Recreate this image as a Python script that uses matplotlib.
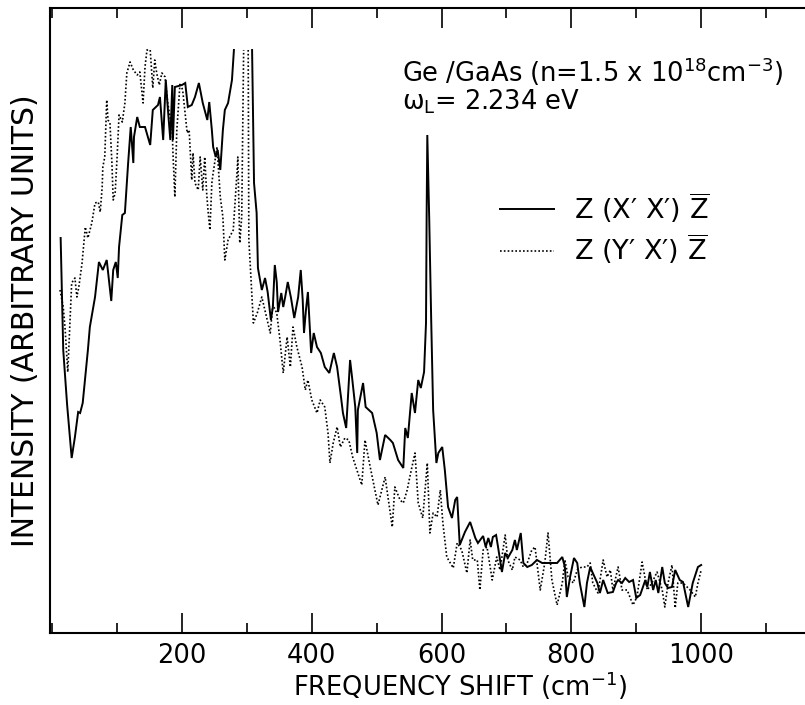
import numpy as np
import matplotlib
matplotlib.use('Agg')
import matplotlib.pyplot as plt
from matplotlib.lines import Line2D
from matplotlib.ticker import MultipleLocator

plt.rcParams['font.family'] = ['DejaVu Sans']
plt.rcParams['mathtext.fontset'] = 'dejavusans'
plt.rcParams['mathtext.default'] = 'regular'

nan = float('nan')

# Z(X'X')Z-bar  (solid)
xx_shift = [13, 17, 23, 30, 35, 40, 43, 47, 55, 58,
            66, 72, 78, 84, 91, 94, 98, 101, 103, 108,
            112, 117, 121, 125, 126, 131, 135, 143, 151, 155,
            163, 166, 171, 175, 178, 182, 185, 186, 189, 200,
            205, 209, 215, 220, 226, 232, 239, 242, 246, 248,
            252, 255, 259, 263, 266, 271, 277, 280, nan, 308,
            311, 315, 317, 323, 328, 332, 337, 340, 343, 346,
            348, 353, 356, 359, 363, 368, 373, 379, 383, 386,
            388, 391, 394, 399, 403, 408, 414, 420, 427, 434,
            439, 445, 448, 453, 459, 462, 467, 470, 471, 479,
            483, 493, 500, 505, 513, 521, 525, 533, 541, 544,
            548, 554, 559, 564, 568, 573, 576, 577, 578, 581,
            584, 587, 592, 595, 601, 605, 610, 616, 621, 624,
            628, 636, 644, 652, 656, 664, 668, 672, 676, 679,
            684, 687, 693, 698, 702, 709, 713, 716, 722, 726,
            732, 739, 747, 755, 762, 770, 778, 786, 790, 793,
            798, 804, 809, 813, 820, 824, 829, 833, 840, 844,
            849, 856, 864, 869, 872, 878, 883, 889, 895, 900,
            906, 914, 917, 921, 926, 930, 934, 940, 944, 949,
            955, 960, 967, 972, 980, 987, 995, 1000]
xx_int = [395, 283, 228, 175, 196, 221, 220, 230, 283, 306,
          336, 371, 363, 373, 332, 363, 371, 355, 386, 418,
          420, 470, 506, 470, 496, 516, 506, 506, 488, 523,
          528, 536, 493, 553, 526, 493, 548, 493, 546, 548,
          550, 526, 528, 536, 550, 530, 513, 531, 503, 486,
          476, 483, 463, 503, 523, 530, 553, 583, nan, 583,
          450, 420, 365, 343, 355, 341, 313, 326, 368, 351,
          321, 340, 326, 336, 351, 335, 315, 336, 363, 333,
          300, 323, 341, 280, 300, 286, 280, 266, 260, 280,
          266, 236, 220, 205, 273, 256, 226, 180, 223, 250,
          226, 220, 200, 173, 198, 193, 190, 173, 165, 205,
          195, 240, 220, 253, 245, 261, 310, 420, 498, 413,
          313, 223, 170, 180, 186, 163, 126, 115, 133, 136,
          88, 101, 111, 95, 90, 97, 86, 95, 86, 96,
          98, 86, 61, 80, 75, 83, 93, 83, 100, 70,
          66, 68, 73, 70, 70, 70, 70, 76, 66, 36,
          56, 75, 70, 50, 26, 50, 66, 60, 50, 40,
          53, 40, 41, 50, 53, 50, 55, 51, 53, 35,
          38, 53, 46, 61, 43, 53, 40, 66, 50, 45,
          46, 63, 53, 51, 26, 50, 66, 68]

# Z(Y'X')Z-bar  (dotted)
yx_shift = [12, 17, 20, 24, 30, 35, 38, 41, 46, 51,
            55, 61, 66, 71, 74, 77, 78, 81, 84, 86,
            89, 92, 94, 97, 100, 103, 108, 112, 115, 120,
            125, 131, 135, 140, 143, 146, 151, 155, 158, 161,
            165, 169, 174, 178, 185, 186, 189, 192, 197, 201,
            208, 211, 215, 217, 220, 225, 228, 232, 235, 238,
            240, 243, 246, 248, 254, 259, 263, 266, 271, 279,
            285, 286, 289, 292, 295, nan, 302, 303, 305, 310,
            316, 323, 336, 340, 346, 351, 356, 362, 367, 371,
            377, 385, 390, 394, 400, 408, 413, 420, 425, 428,
            433, 439, 444, 451, 457, 463, 477, 482, 490, 502,
            513, 524, 528, 536, 541, 547, 551, 559, 564, 571,
            578, 582, 587, 593, 598, 602, 608, 618, 624, 631,
            639, 644, 648, 655, 659, 664, 670, 678, 685, 690,
            698, 702, 709, 713, 721, 726, 732, 739, 744, 752,
            759, 764, 770, 778, 786, 790, 795, 803, 809, 816,
            824, 829, 833, 841, 849, 855, 860, 864, 872, 878,
            886, 895, 901, 909, 917, 924, 932, 940, 944, 949,
            955, 960, 964, 972, 983, 991, 995, 1000]
yx_int = [343, 326, 303, 261, 350, 355, 336, 346, 370, 406,
          395, 410, 430, 431, 421, 446, 466, 476, 533, 513,
          510, 470, 433, 440, 476, 518, 511, 530, 560, 571,
          563, 558, 561, 530, 566, 583, 583, 545, 573, 560,
          548, 560, 556, 530, 503, 481, 436, 503, 550, 543,
          500, 503, 453, 480, 450, 443, 476, 443, 476, 440,
          423, 403, 450, 460, 486, 436, 416, 373, 393, 403,
          463, 476, 390, 416, 583, nan, 583, 393, 370, 310,
          320, 336, 300, 328, 320, 293, 260, 296, 266, 306,
          286, 266, 243, 253, 233, 220, 233, 226, 200, 170,
          190, 206, 186, 195, 193, 176, 148, 193, 166, 128,
          156, 106, 146, 133, 130, 143, 156, 180, 130, 115,
          170, 100, 120, 116, 143, 110, 76, 65, 90, 83,
          60, 93, 73, 73, 43, 83, 86, 53, 76, 63,
          98, 73, 63, 76, 73, 66, 70, 83, 86, 43,
          70, 100, 53, 28, 50, 73, 56, 50, 63, 66,
          66, 70, 50, 40, 73, 56, 63, 43, 66, 43,
          43, 28, 36, 71, 43, 50, 61, 43, 26, 50,
          68, 25, 50, 50, 43, 36, 50, 63]

xticks_major = [200, 400, 600, 800, 1000]
legend_labels = ["Z (X\u2032 X\u2032) $\\overline{Z}$", "Z (Y\u2032 X\u2032) $\\overline{Z}$"]
title_line1 = "Ge /GaAs (n=1.5 x 10$^{18}$cm$^{-3}$)"
title_line2 = "$\\omega_L$= 2.234 eV"

W, H = 805, 705
fig = plt.figure(figsize=(W / 100, H / 100), dpi=100)
ax = fig.add_axes([50 / W, (H - 633) / H, 755 / W, 625 / H])

solid_style = dict(color='black', lw=1.4, solid_joinstyle='miter')
dot_style = dict(color='black', lw=1.2, linestyle=(0, (1, 1.3)))

ax.plot(xx_shift, xx_int, **solid_style)
ax.plot(yx_shift, yx_int, **dot_style)

ax.set_xlim(-3.4, 1160)
ax.set_ylim(0, 625)

ax.xaxis.set_major_locator(plt.FixedLocator(xticks_major))
ax.xaxis.set_minor_locator(MultipleLocator(100))
ax.set_yticks([])
ax.tick_params(axis='x', which='both', direction='in', top=True, bottom=True,
               width=1.2, labelsize=18.5, pad=7)
ax.tick_params(axis='x', which='major', length=14.5)
ax.tick_params(axis='x', which='minor', length=7)
for s in ['left', 'bottom', 'top']:
    ax.spines[s].set_linewidth(1.5)
ax.spines['right'].set_visible(False)

fig.text(460 / W, 1 - 686 / H, "FREQUENCY SHIFT (cm$^{-1}$)", ha='center', va='center', fontsize=18.5)
fig.text(26 / W, 1 - 321 / H, "INTENSITY (ARBITRARY UNITS)", ha='center', va='center',
         rotation=90, fontsize=21.5)

fig.text(402 / W, 1 - 82 / H, title_line1, ha='left', va='baseline', fontsize=18.5)
fig.text(402 / W, 1 - 110 / H, title_line2, ha='left', va='baseline', fontsize=18.5)

handles = [Line2D([], [], **solid_style), Line2D([], [], **dot_style)]
leg = ax.legend(handles, legend_labels, loc='upper left',
                bbox_to_anchor=((500 - 50) / 755, 1 - (190 - 8) / 625),
                frameon=False, fontsize=19.5, handlelength=2.0, handletextpad=0.75,
                borderpad=0, borderaxespad=0, labelspacing=0.25)

fig.savefig('out.png', dpi=100)
